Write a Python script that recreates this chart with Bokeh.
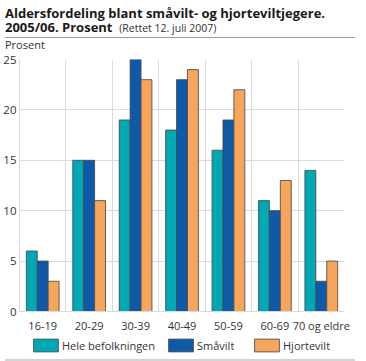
from bokeh.plotting import figure
from bokeh.models import (ColumnDataSource, Range1d, FixedTicker, Legend, LegendItem, Div)
from bokeh.layouts import column
from bokeh.transform import dodge
from bokeh.embed import file_html
from bokeh.resources import INLINE

# ---- data ----
categories = ["16-19", "20-29", "30-39", "40-49", "50-59", "60-69", "70 og eldre"]
hele = [6, 15, 19, 18, 16, 11, 14]
smaavilt = [5, 15, 25, 23, 19, 10, 3]
hjortevilt = [3, 11, 23, 24, 22, 13, 5]
series_names = ["Hele befolkningen", "Småvilt", "Hjortevilt"]
y_ticks = [0, 5, 10, 15, 20, 25]

title_line1 = "Aldersfordeling blant småvilt- og hjorteviltjegere."
title_line2 = "2005/06. Prosent"
title_note = "(Rettet 12. juli 2007)"
y_title = "Prosent"

# ---- style ----
FONT = "Open Sans"
colors = ["#00a7b5", "#0e59a8", "#f5a65b"]
outline = "#4a4a4a"
grid_col = "#d9d9e1"
text_col = "#1a1a1a"
tick_col = "#333333"
bar_w = 0.235

header_html = (
    f"<div style=\"font-family:'{FONT}'; color:{text_col}; white-space:nowrap\">"
    f"<div style=\"font-weight:bold; font-size:13px; line-height:14px; padding-top:1px\">"
    f"{title_line1}<br>{title_line2}&nbsp;&nbsp;<span style=\"font-weight:normal; "
    f"font-size:10.5px; color:{tick_col}\">{title_note}</span></div>"
    f"<div style=\"height:0; border-top:1px solid #9a9a9a; margin-top:2px; width:350px\"></div>"
    f"<div style=\"font-size:11px; line-height:12px; margin-top:1px; color:{tick_col}\">"
    f"{y_title}</div></div>")
header = Div(text=header_html, width=350, height=43)

xs = list(range(1, len(categories) + 1))
source = ColumnDataSource(dict(x=xs, hele=hele, smaavilt=smaavilt, hjortevilt=hjortevilt))

p = figure(width=350, height=282, output_backend="svg", toolbar_location=None,
           x_range=Range1d(0.5, len(categories) + 0.5), y_range=Range1d(0, 25),
           min_border_left=17, min_border_right=6, min_border_top=6, min_border_bottom=20,
           outline_line_color=None, background_fill_color="white",
           border_fill_color="white")

fields = ["hele", "smaavilt", "hjortevilt"]
for field, off, col in zip(fields, [-bar_w, 0, bar_w], colors):
    p.vbar(x=dodge("x", off, range=p.x_range), top=field, width=bar_w, bottom=0,
           source=source, fill_color=col, line_color=outline, line_width=1,
           line_alpha=0.85)

# axes
p.xaxis.ticker = FixedTicker(ticks=xs)
p.xaxis.major_label_overrides = {x: c for x, c in zip(xs, categories)}
p.yaxis.ticker = FixedTicker(ticks=y_ticks)
for ax in (p.xaxis, p.yaxis):
    ax.major_tick_line_color = None
    ax.minor_tick_line_color = None
    ax.major_tick_out = 0
    ax.major_tick_in = 0
    ax.axis_line_color = grid_col
    ax.major_label_text_font = FONT
    ax.major_label_text_color = tick_col
p.yaxis.major_label_text_font_size = "11.5px"
p.xaxis.major_label_text_font_size = "11px"
p.yaxis.major_label_standoff = 3
p.xaxis.major_label_standoff = 6

p.xgrid.ticker = FixedTicker(ticks=[x + 0.5 for x in xs])
p.ygrid.ticker = FixedTicker(ticks=y_ticks[1:])
p.xgrid.grid_line_color = grid_col
p.ygrid.grid_line_color = grid_col
p.xgrid.grid_line_width = 1
p.ygrid.grid_line_width = 1

# ---- legend strip (separate figure so nothing is clipped) ----
# the series are drawn again here only as legend proxies, far outside the visible ranges
lf = figure(width=350, height=19, output_backend="svg", toolbar_location=None,
            x_axis_type=None, y_axis_type=None,
            x_range=Range1d(100, 101), y_range=Range1d(100, 101),
            min_border=0, min_border_left=0, min_border_right=0, min_border_top=0,
            min_border_bottom=0, outline_line_color=None, background_fill_color="white",
            border_fill_color="white")
lf.grid.visible = False
for name, field, col, vx in zip(series_names, fields, colors, [11, 146, 232]):
    swatch = lf.vbar(x="x", top=field, width=bar_w, source=source, fill_color=col,
                     line_color=outline, line_width=1, line_alpha=0.85)
    lg = Legend(items=[LegendItem(label=name, renderers=[swatch])], location=(vx, 1),
                orientation="horizontal", padding=0, margin=0, spacing=0,
                glyph_width=31, glyph_height=16, label_height=16, label_standoff=1,
                label_text_font=FONT, label_text_font_size="11px",
                label_text_color=tick_col, label_text_baseline="middle",
                border_line_color=None, background_fill_alpha=0)
    lf.add_layout(lg, "center")

bottom_line = Div(text="", width=350, height=3, styles={"background-color": "#d4d4d4"})

layout = column(header, p, lf, bottom_line, spacing=0)

open("out.html", "w").write(file_html(layout, INLINE))
